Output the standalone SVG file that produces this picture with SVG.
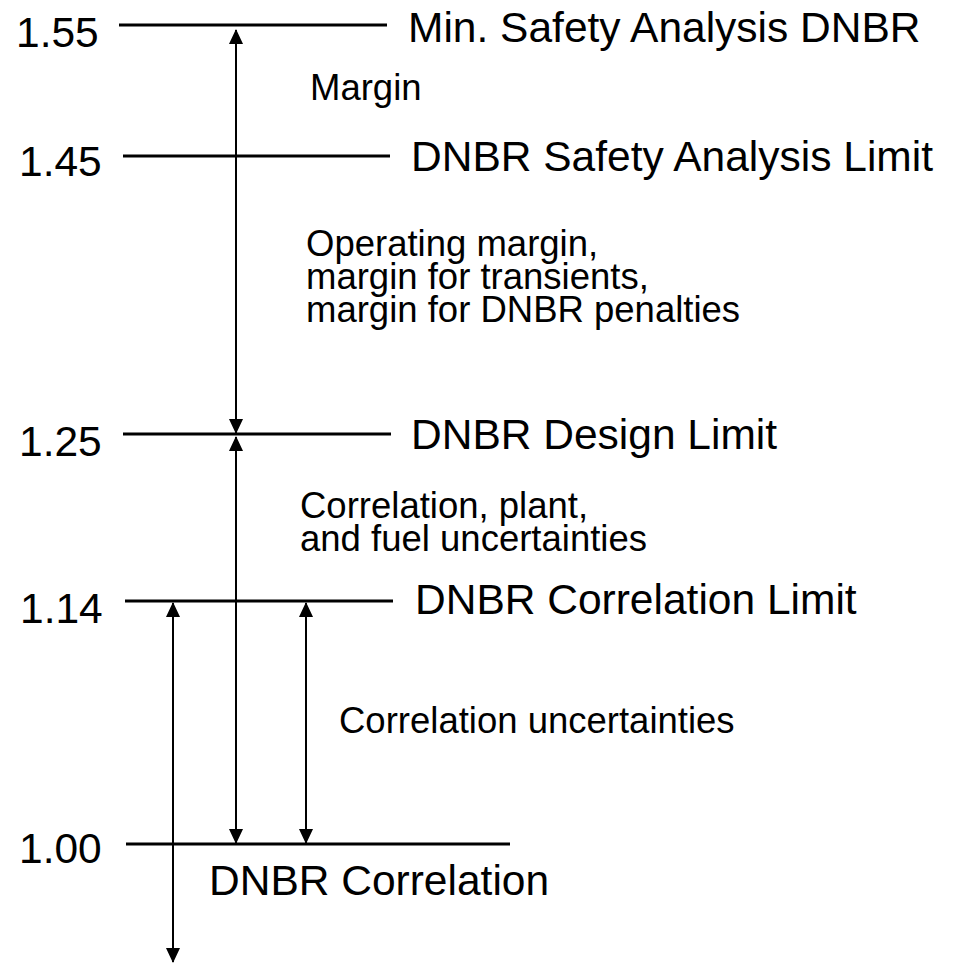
<svg xmlns="http://www.w3.org/2000/svg" width="958" height="963" viewBox="0 0 958 963">
<style>
.lvl{stroke:#000;stroke-width:3;fill:none}
.arr{stroke:#000;stroke-width:2;fill:none;marker-start:url(#ah);marker-end:url(#ah)}
.big{font-family:"Liberation Sans",Arial,sans-serif;font-size:42.5px;fill:#000}
.sm{font-family:"Liberation Sans",Arial,sans-serif;font-size:36.5px;fill:#000}
</style>
<defs>
<marker id="ah" viewBox="0 0 15 14" refX="14" refY="7" markerWidth="15" markerHeight="14" markerUnits="userSpaceOnUse" orient="auto-start-reverse">
<path d="M0,0 L15,7 L0,14 z" fill="#000"/>
</marker>
</defs>
<rect width="958" height="963" fill="#fff"/>
<g id="level-155">
<line class="lvl" x1="119" y1="25" x2="387" y2="25"/>
<text class="big" x="16" y="47">1.55</text>
<text class="big" x="408" y="42">Min. Safety Analysis DNBR</text>
</g>
<g id="level-145">
<line class="lvl" x1="123" y1="156" x2="390" y2="156"/>
<text class="big" x="19" y="176">1.45</text>
<text class="big" x="411" y="171">DNBR Safety Analysis Limit</text>
</g>
<g id="level-125">
<line class="lvl" x1="123" y1="434" x2="391" y2="434"/>
<text class="big" x="19" y="456">1.25</text>
<text class="big" x="411" y="449">DNBR Design Limit</text>
</g>
<g id="level-114">
<line class="lvl" x1="125" y1="601" x2="393" y2="601"/>
<text class="big" x="20" y="623">1.14</text>
<text class="big" x="415" y="614">DNBR Correlation Limit</text>
</g>
<g id="level-100">
<line class="lvl" x1="126" y1="844" x2="510" y2="844"/>
<text class="big" x="19" y="863">1.00</text>
<text class="big" x="209" y="895">DNBR Correlation</text>
</g>
<g id="label-margin">
<text class="sm" x="310" y="100">Margin</text>
</g>
<g id="label-operating">
<text class="sm" x="306" y="256">Operating margin,</text>
<text class="sm" x="306" y="289">margin for transients,</text>
<text class="sm" x="306" y="322">margin for DNBR penalties</text>
</g>
<g id="label-plant">
<text class="sm" x="300" y="518">Correlation, plant,</text>
<text class="sm" x="300" y="551">and fuel uncertainties</text>
</g>
<g id="label-corr-unc">
<text class="sm" x="339" y="733">Correlation uncertainties</text>
</g>
<g id="connectors">
<line class="arr" x1="236" y1="30" x2="236" y2="433"/>
<line class="arr" x1="236" y1="437" x2="236" y2="843"/>
<line class="arr" x1="306" y1="603" x2="306" y2="843"/>
<line class="arr" x1="173" y1="603" x2="173" y2="962"/>
</g>
</svg>
